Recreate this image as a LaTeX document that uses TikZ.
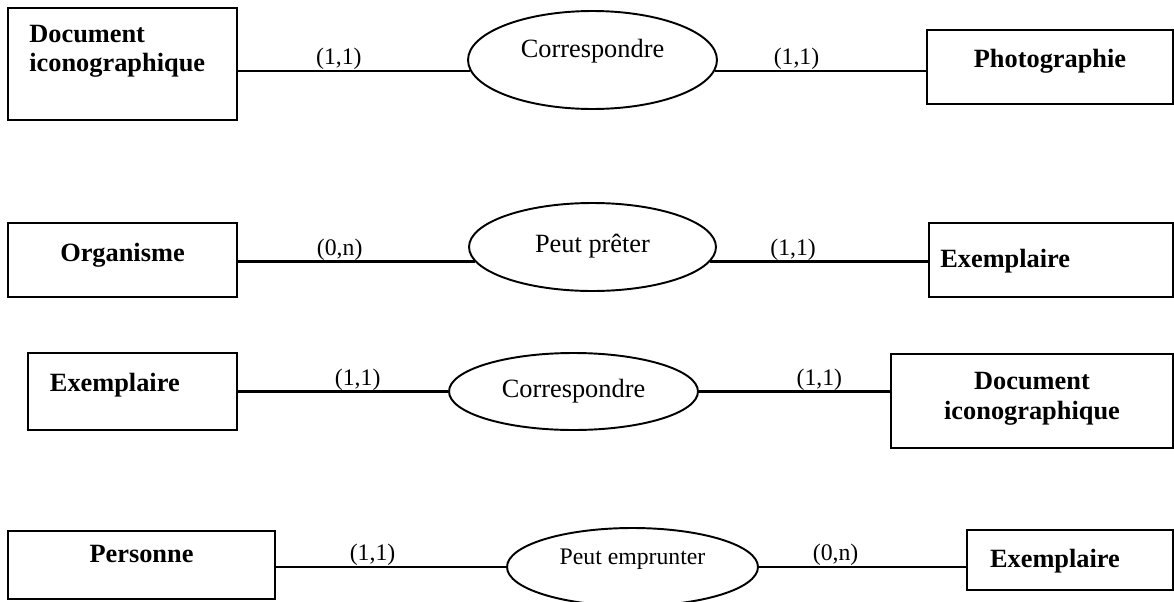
\documentclass[tikz,border=0pt]{standalone}
\usepackage{fontspec}
\setmainfont{Liberation Serif}
\usetikzlibrary{shapes.geometric}

\begin{document}
\begin{tikzpicture}
    [x=0.02cm, y=-0.02cm,
    entity/.style={draw, rectangle, line width=1pt, inner sep=0pt, font=\fontsize{15}{17}\selectfont\bfseries, text height=9pt, text depth=9pt},
    relation/.style={draw, ellipse, line width=1.1pt, inner sep=0pt, font=\fontsize{15}{17}\selectfont, text height=9pt, text depth=9pt},
    link/.style={line width=1.2pt},
    card/.style={anchor=south, inner sep=0pt, font=\fontsize{13.5}{16}\selectfont}]

\useasboundingbox (0,0) rectangle (1174,602);
\clip (0,0) rectangle (1174,602);

%first association
\node[entity, minimum width=4.58cm, minimum height=2.24cm, text width=106pt, inner xsep=12pt, align=left, text depth=34pt] (doc1) at (122.5,64) {Document\\iconographique};
\node[relation, minimum width=4.98cm, minimum height=1.96cm, text depth=11.3pt] (rel1) at (592.5,60) {Correspondre};
\node[entity, minimum width=4.92cm, minimum height=1.48cm] (photo) at (1050,67) {Photographie};

\draw[link] (doc1.east |- rel1.185) -- (rel1.185) node[card, pos=0.435] (c1a) {(1,1)};
\draw[link] (rel1.355) -- (rel1.355 -| photo.west) node[card, pos=0.386] (c1b) {(1,1)};

%second association
\node[entity, minimum width=4.58cm, minimum height=1.48cm, text height=11pt] (org) at (122.5,260) {Organisme};
\node[relation, minimum width=4.94cm, minimum height=1.76cm, text height=15.8pt] (rel2) at (592.5,247) {Peut prêter};
\node[entity, minimum width=4.88cm, minimum height=1.48cm, text width=126pt, inner xsep=6.3pt, align=left, text height=17pt] (exemp2) at (1051,260) {Exemplaire};

\draw[link] (org.east |- rel2.187) -- (rel2.187) node[card, pos=0.43] (c2a) {(0,n)};
\draw[link] (rel2.353) -- (rel2.353 -| exemp2.west) node[card, pos=0.38] (c2b) {(1,1)};

%third association
\node[entity, minimum width=4.18cm, minimum height=1.54cm, text width=94pt, inner xsep=12.5pt, align=left] (ex3) at (132.5,391.5) {Exemplaire};
\node[relation, minimum width=4.98cm, minimum height=1.54cm, text height=15.3pt] (rel3) at (573.5,391.5) {Correspondre};
\node[entity, minimum width=5.64cm, minimum height=1.88cm, text width=150pt, align=center, text depth=21.6pt] (doc3) at (1032,401) {Document\\iconographique};

\draw[link] (ex3.east) -- (rel3.west) node[card, pos=0.57] (c3a) {(1,1)};
\draw[link] (rel3.east) -- (rel3.east -| doc3.west) node[card, pos=0.63] (c3b) {(1,1)};

%fourth association
\node[entity, minimum width=5.34cm, minimum height=1.36cm, text depth=12pt] (pers) at (141.5,565) {Personne};
\node[relation, minimum width=5.02cm, minimum height=1.56cm, text depth=11.3pt, font=\fontsize{13.5}{16}\selectfont] (rel4) at (632.5,567) {Peut emprunter};
\node[entity, minimum width=4.12cm, minimum height=1.2cm, text width=91pt, inner xsep=13pt, align=left, text height=17pt] (exemp4) at (1070,560) {Exemplaire};

\draw[link] (pers.east |- rel4.west) -- (rel4.west) node[card, pos=0.42] (c4a) {(1,1)};
\draw[link] (rel4.east) -- (rel4.east -| exemp4.west) node[card, pos=0.37] (c4b) {(0,n)};

\end{tikzpicture}
\end{document}
